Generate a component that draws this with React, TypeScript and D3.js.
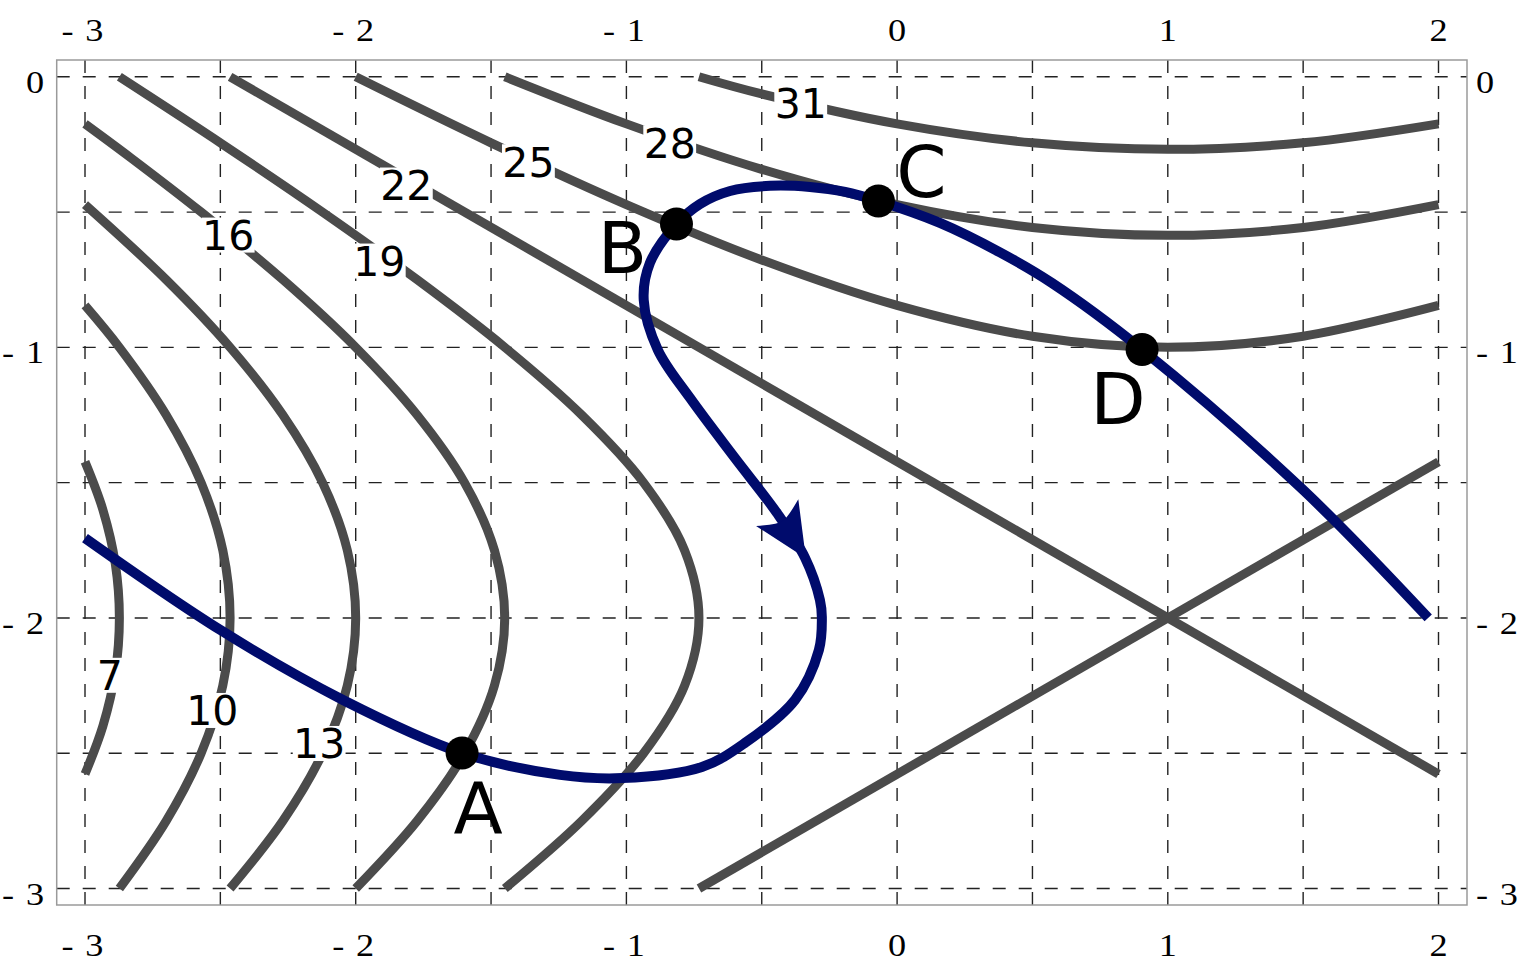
import React from 'react';
import * as d3 from 'd3';

// tick values and grid
const xTicks = [-3, -2, -1, 0, 1, 2];
const yTicks = [0, -1, -2, -3];
const gridX = [-3, -2.5, -2, -1.5, -1, -0.5, 0, 0.5, 1, 1.5, 2];
const gridY = [0, -0.5, -1, -1.5, -2, -2.5, -3];

// contour lines in data units [x, y]
const contour7 = [[-3, -1.423], [-2.934, -1.6], [-2.888, -1.8], [-2.873, -2], [-2.888, -2.2], [-2.934, -2.4], [-3, -2.577]];
const contour10 = [[-3, -0.845], [-2.873, -1], [-2.7, -1.25], [-2.571, -1.5], [-2.491, -1.75], [-2.464, -2], [-2.491, -2.25], [-2.571, -2.5], [-2.7, -2.75], [-2.873, -3]];
const contour13 = [[-3, -0.4725], [-2.7, -0.75], [-2.464, -1], [-2.269, -1.25], [-2.1225, -1.5], [-2.031, -1.75], [-2, -2], [-2.031, -2.25], [-2.1225, -2.5], [-2.269, -2.75], [-2.464, -3]];
const contour16 = [[-3, -0.174], [-2.83, -0.3], [-2.571, -0.5], [-2.269, -0.75], [-2, -1], [-1.773, -1.25], [-1.598, -1.5], [-1.4875, -1.75], [-1.4495, -2], [-1.4875, -2.25], [-1.598, -2.5], [-1.773, -2.75], [-2, -3]];
const contour19 = [[-2.873, 0], [-2.491, -0.25], [-2.1225, -0.5], [-1.773, -0.75], [-1.449, -1], [-1.165, -1.25], [-0.9365, -1.5], [-0.785, -1.75], [-0.732, -2], [-0.785, -2.25], [-0.9365, -2.5], [-1.165, -2.75], [-1.449, -3]];
const contour22a = [[-2.464, 0], [2, -2.577]];
const contour22b = [[-0.732, -3], [2, -1.423]];
const contour25 = [[-2, 0], [-1.5, -0.244], [-1, -0.4725], [-0.5, -0.677], [0, -0.845], [0.5, -0.959], [1, -1], [1.5, -0.959], [2, -0.845]];
const contour28 = [[-1.449, 0], [-1, -0.174], [-0.5, -0.342], [0, -0.4725], [0.5, -0.557], [1, -0.586], [1.5, -0.557], [2, -0.4725]];
const contour31 = [[-0.732, 0], [-0.5, -0.0635], [0, -0.174], [0.5, -0.244], [1, -0.268], [1.5, -0.244], [2, -0.174]];

const contours = [contour7, contour10, contour13, contour16, contour19, contour22a, contour22b, contour25, contour28, contour31];

// contour labels (text, x, y of label centre)
const labelText = ['7', '10', '13', '16', '19', '22', '25', '28', '31'];
const labelX = [-2.908, -2.53, -2.135, -2.471, -1.913, -1.813, -1.362, -0.84, -0.356];
const labelY = [-2.212, -2.342, -2.464, -0.585, -0.681, -0.4, -0.314, -0.244, -0.096];

// the path
const pathPts = [
  [-3, -1.705], [-2.501, -2.044], [-2.047, -2.303], [-1.607, -2.499], [-1.245, -2.58],
  [-1.016, -2.592], [-0.721, -2.551], [-0.562, -2.462], [-0.377, -2.303], [-0.289, -2.119],
  [-0.278, -1.997], [-0.285, -1.934], [-0.34, -1.778], [-0.444, -1.612], [-0.599, -1.409],
  [-0.765, -1.187], [-0.884, -1.009], [-0.936, -0.825], [-0.913, -0.688], [-0.815, -0.544],
  [-0.728, -0.47], [-0.617, -0.422], [-0.469, -0.403], [-0.322, -0.407], [-0.192, -0.425],
  [-0.069, -0.459], [0.158, -0.54], [0.38, -0.649], [0.572, -0.762], [0.905, -1.008],
  [1.5, -1.527], [1.962, -2.0],
];
const arrowTip = [-0.337, -1.779];
const arrowBase = [-0.443, -1.611];

// marked points
const pointNames = ['A', 'B', 'C', 'D'];
const pointX = [-1.607, -0.815, -0.069, 0.905];
const pointY = [-2.499, -0.544, -0.459, -1.008];
// letter offsets from the dot, in px
const letterOffset = { A: [16, 80], B: [-54, 49], C: [43, -4], D: [-24, 74] };

const W = 1527;
const H = 970;
const frame = { left: 56.7, right: 1467, top: 60, bottom: 905 };

const x = d3.scaleLinear().domain([-3, 2]).range([85, 1438.5]);
const y = d3.scaleLinear().domain([0, -3]).range([76.8, 888.5]);

const line = d3.line<number[]>()
  .x(d => x(d[0]))
  .y(d => y(d[1]))
  .curve(d3.curveCatmullRom.alpha(0.5));

const fmt = (v: number) => (v < 0 ? ['-', String(-v)] : ['', String(v)]);

const GRAY = '#4b4b4b';
const BLUE = '#000b6c';
const SERIF = '"Liberation Serif", "Times New Roman", serif';
const SANS = '"DejaVu Sans", sans-serif';

// tick labels are drawn a bit wide, like the original
function TickText({ v, px, py, anchor }: { v: number; px: number; py: number; anchor: string }) {
  const [sign, num] = fmt(v);
  return (
    <text transform={`translate(${px},${py}) scale(1.17,1)`} textAnchor={anchor} fontFamily={SERIF} fontSize={31} fill="#000">
      {sign && <tspan>{sign}</tspan>}
      <tspan dx={sign ? 10 : 0}>{num}</tspan>
    </text>
  );
}

function arrowPath() {
  const tx = x(arrowTip[0]), ty = y(arrowTip[1]);
  const bx = x(arrowBase[0]), by = y(arrowBase[1]);
  const len = Math.hypot(tx - bx, ty - by);
  const ux = (tx - bx) / len, uy = (ty - by) / len;
  const nx = -uy, ny = ux;
  const half = 25;
  const notch = 10;
  const p1 = [bx + nx * half, by + ny * half];
  const p2 = [bx - nx * half, by - ny * half];
  const n = [bx + ux * notch, by + uy * notch];
  return `M${tx},${ty}L${p1[0]},${p1[1]}Q${n[0] + nx * 6},${n[1] + ny * 6} ${n[0]},${n[1]}Q${n[0] - nx * 6},${n[1] - ny * 6} ${p2[0]},${p2[1]}Z`;
}

export default function App() {
  const fs = 41;
  return (
    <svg width={W} height={H} style={{ position: 'absolute', left: 0, top: 0, display: 'block', background: '#fff' }}>
      {/* grid */}
      <g stroke="#222" strokeWidth={1.4} strokeDasharray="13 13" fill="none">
        {gridX.map(g => (
          <line key={'gx' + g} x1={x(g)} x2={x(g)} y1={frame.top} y2={frame.bottom} />
        ))}
        {gridY.map(g => (
          <line key={'gy' + g} x1={frame.left} x2={frame.right} y1={y(g)} y2={y(g)} />
        ))}
      </g>

      {/* frame */}
      <rect x={frame.left} y={frame.top} width={frame.right - frame.left} height={frame.bottom - frame.top}
        fill="none" stroke="#9a9a9a" strokeWidth={1.5} />

      {/* tick labels */}
      {xTicks.map(v => (
        <g key={'xt' + v}>
          <TickText v={v} px={x(v) - (v < 0 ? 2.5 : 0)} py={41} anchor="middle" />
          <TickText v={v} px={x(v) - (v < 0 ? 2.5 : 0)} py={956} anchor="middle" />
        </g>
      ))}
      {yTicks.map(v => (
        <g key={'yt' + v}>
          <TickText v={v} px={44} py={y(v) + 16} anchor="end" />
          <TickText v={v} px={1476} py={y(v) + 16} anchor="start" />
        </g>
      ))}

      {/* contours */}
      <g fill="none" stroke={GRAY} strokeWidth={9} strokeLinecap="butt">
        {contours.map((c, i) => (
          <path key={'c' + i} d={line(c) || ''} />
        ))}
      </g>

      {/* contour labels */}
      {labelText.map((t, i) => {
        const w = t.length * 0.62 * fs + 2;
        const h = 35;
        const cx = x(labelX[i]);
        const cy = y(labelY[i]);
        return (
          <g key={'l' + t}>
            <rect x={cx - w / 2} y={cy - h / 2} width={w} height={h} fill="#fff" />
            <text x={cx} y={cy + 0.365 * fs} textAnchor="middle" fontFamily={SANS} fontSize={fs} fill="#000">{t}</text>
          </g>
        );
      })}

      {/* path */}
      <path d={line(pathPts) || ''} fill="none" stroke={BLUE} strokeWidth={10} strokeLinecap="butt" />
      <path d={arrowPath()} fill={BLUE} />

      {/* points */}
      {pointNames.map((n, i) => {
        const cx = x(pointX[i]);
        const cy = y(pointY[i]);
        const off = (letterOffset as any)[n];
        return (
          <g key={'p' + n}>
            <circle cx={cx} cy={cy} r={16.5} fill="#000" />
            <text x={cx + off[0]} y={cy + off[1]} textAnchor="middle" fontFamily={SANS} fontSize={72} fill="#000">{n}</text>
          </g>
        );
      })}
    </svg>
  );
}
